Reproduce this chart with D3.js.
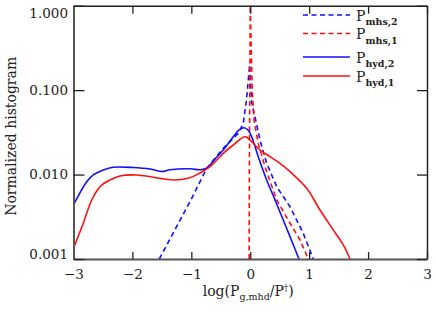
<!DOCTYPE html>
<html>
<head>
<meta charset="utf-8">
<script src="https://cdn.jsdelivr.net/npm/d3@7"></script>
<style>
  body { margin: 0; background: #fff; }
  svg { display: block; font-family: "DejaVu Serif", serif; }
</style>
</head>
<body>
<div id="container"></div>
<script>
// data: [log(Pg,mhd/P'), normalized histogram]
const hyd2 = [[-3.0,0.00437],[-2.776,0.00822],[-2.664,0.00989],[-2.494,0.01132],[-2.33,0.01219],[-1.99,0.01213],
  [-1.70,0.01164],[-1.498,0.01086],[-1.362,0.0114],[-1.023,0.0117],[-0.853,0.0114],[-0.739,0.01186],
  [-0.598,0.01528],[-0.458,0.01954],[-0.288,0.02805],[-0.19,0.03373],[-0.105,0.03589],[-0.038,0.03373],
  [0.024,0.02805],[0.136,0.01629],[0.279,0.00863],[0.42,0.00501],[0.675,0.00184],[0.827,0.001]];

const hyd1 = [[-3.0,0.00134],[-2.834,0.00265],[-2.691,0.0050],[-2.55,0.00718],[-2.38,0.00863],[-2.211,0.00962],
  [-1.927,0.00989],[-1.646,0.00929],[-1.306,0.00863],[-1.052,0.00904],[-0.882,0.01016],[-0.683,0.01239],
  [-0.458,0.01786],[-0.288,0.02239],[-0.089,0.02805],[0.024,0.02449],[0.165,0.01954],[0.335,0.01629],
  [0.505,0.01358],[0.675,0.01081],[0.958,0.00687],[1.184,0.0038],[1.41,0.0022],[1.579,0.00147],[1.693,0.001]];

const mhs2 = [[-1.544,0.001],[-0.994,0.00524],[-0.739,0.01186],[-0.458,0.02046],[-0.203,0.03083],[-0.118,0.04046],
  [-0.064,0.0764],[-0.01,0.1995],[0.024,0.0705],[0.08,0.0484],[0.165,0.0257],[0.279,0.01358],[0.449,0.00718],
  [0.675,0.00416],[0.9,0.00201],[1.07,0.001]];

const mhs1 = [[-0.02,0.001],[-0.015,0.01],[-0.008,0.1],[0.0,1.0],[0.017,0.2985],[0.034,0.1],[0.063,0.0443],
  [0.136,0.0234],[0.25,0.0124],[0.449,0.005],[0.675,0.00265],[0.845,0.00168],[0.985,0.001]];

const xTicks = [-3, -2, -1, 0, 1, 2, 3];
const yTicks = [0.001, 0.01, 0.1, 1];
const yTickLabels = ["0.001", "0.010", "0.100", "1.000"];

const series = [
  { name: "mhs,2", data: mhs2, color: "#1010ff", dash: "5,3.5", smooth: false },
  { name: "mhs,1", data: mhs1, color: "#ff1010", dash: "5,3.5", smooth: false },
  { name: "hyd,2", data: hyd2, color: "#1010ff", dash: null, smooth: true },
  { name: "hyd,1", data: hyd1, color: "#ff1010", dash: null, smooth: true }
];

const width = 436, height = 312;
const plot = { left: 73.5, right: 427, top: 5.7, bottom: 259 };

const xScale = d3.scaleLinear().domain([-3, 3]).range([plot.left, plot.right]);
const yScale = d3.scaleLog().domain([0.001, 1]).range([plot.bottom, plot.top]);

const svg = d3.select("#container").append("svg")
  .attr("width", width).attr("height", height);

svg.append("clipPath").attr("id", "clip")
  .append("rect")
  .attr("x", plot.left).attr("y", plot.top)
  .attr("width", plot.right - plot.left).attr("height", plot.bottom - plot.top);

// curves
const lineLinear = d3.line().x(d => xScale(d[0])).y(d => yScale(d[1]));
const lineSmooth = d3.line().x(d => xScale(d[0])).y(d => yScale(d[1])).curve(d3.curveCatmullRom.alpha(0.5));

svg.append("g").attr("clip-path", "url(#clip)")
  .selectAll("path")
  .data(series)
  .join("path")
  .attr("d", d => (d.smooth ? lineSmooth : lineLinear)(d.data))
  .attr("fill", "none")
  .attr("stroke", d => d.color)
  .attr("stroke-width", 1.6)
  .attr("stroke-dasharray", d => d.dash);

// axes
const fontSize = 13.5;

const xAxis = svg.append("g")
  .attr("transform", `translate(0,${plot.bottom})`)
  .call(d3.axisBottom(xScale).tickValues(xTicks).tickSizeInner(-7).tickSizeOuter(0).tickPadding(10)
    .tickFormat(d3.format("d")));
xAxis.selectAll("text").attr("font-size", fontSize).attr("font-family", "DejaVu Serif").attr("fill", "#222");

svg.append("g")
  .attr("transform", `translate(0,${plot.top})`)
  .call(d3.axisTop(xScale).tickValues(xTicks).tickSizeInner(-8).tickSizeOuter(0).tickFormat(""));

const yAxis = svg.append("g")
  .attr("transform", `translate(${plot.left},0)`)
  .call(d3.axisLeft(yScale).tickValues(yTicks).tickSizeInner(-11).tickSizeOuter(0).tickPadding(5.5)
    .tickFormat((d, i) => yTickLabels[i]));
yAxis.selectAll("text").attr("font-size", fontSize).attr("font-family", "DejaVu Serif").attr("fill", "#222")
  .attr("dy", (d, i) => i === 0 ? "-0.05em" : i === yTicks.length - 1 ? "0.85em" : "0.32em");

svg.append("g")
  .attr("transform", `translate(${plot.right},0)`)
  .call(d3.axisRight(yScale).tickValues(yTicks).tickSizeInner(-10).tickSizeOuter(0).tickFormat(""));

svg.selectAll(".domain").attr("stroke", "#222").attr("stroke-width", 1.5);
svg.selectAll(".tick line").attr("stroke", "#222").attr("stroke-width", 1.3);
xAxis.select(".domain").attr("stroke", "#555").attr("stroke-width", 2);
yAxis.select(".domain").attr("stroke", "#555").attr("stroke-width", 2);

// axis titles
svg.append("text")
  .attr("transform", `translate(16,${(plot.top + plot.bottom) / 2 + 4}) rotate(-90)`)
  .attr("text-anchor", "middle")
  .attr("font-size", 14)
  .attr("fill", "#222")
  .text("Normalized histogram");

const xt = svg.append("text")
  .attr("x", (plot.left + plot.right) / 2 - 2)
  .attr("y", 296)
  .attr("text-anchor", "middle")
  .attr("font-size", 14)
  .attr("fill", "#222");
xt.append("tspan").text("log(P");
xt.append("tspan").attr("font-size", 9.5).attr("dy", 4).text("g,mhd");
xt.append("tspan").attr("dy", -4).text("/P");
xt.append("tspan").attr("font-size", 9).attr("dy", -5).text("†");
xt.append("tspan").attr("dy", 5).text(")");

// legend
const legendLineY = [15, 33.5, 57, 76];
const legend = svg.append("g");
series.forEach((s, i) => {
  const y = legendLineY[i];
  legend.append("line")
    .attr("x1", 303).attr("x2", 350)
    .attr("y1", y).attr("y2", y)
    .attr("stroke", s.color).attr("stroke-width", 1.6)
    .attr("stroke-dasharray", s.dash);
  const t = legend.append("text")
    .attr("x", 356).attr("y", y + 5.5)
    .attr("font-size", 14).attr("fill", "#222");
  t.append("tspan").text("P");
  t.append("tspan").attr("font-size", 9.5).attr("font-weight", "bold").attr("dy", 4.5).text(s.name);
});
</script>
</body>
</html>
